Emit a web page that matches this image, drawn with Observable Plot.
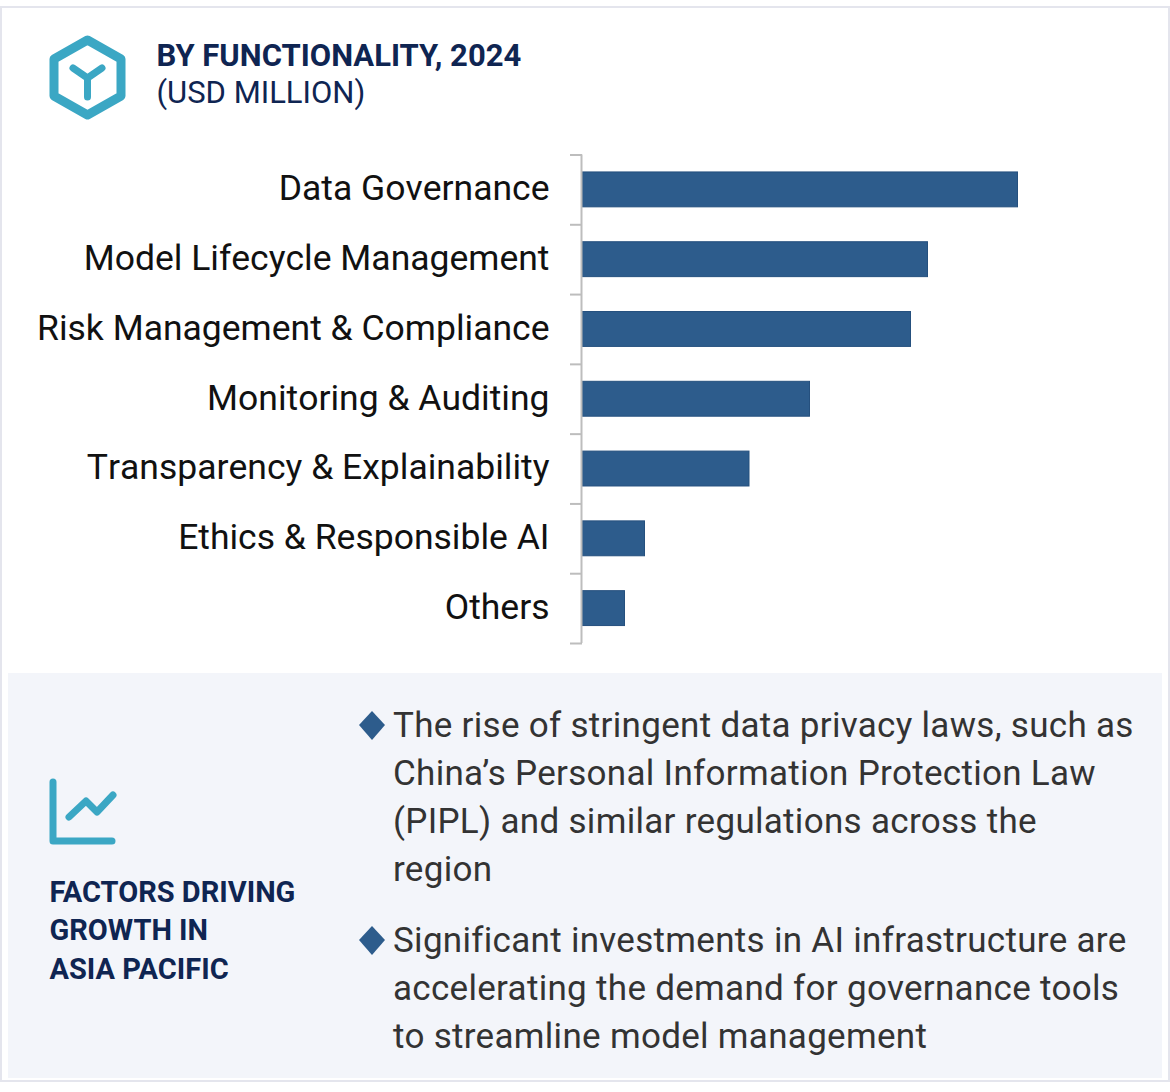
<!DOCTYPE html>
<html><head><meta charset="utf-8">
<script src="https://cdn.jsdelivr.net/npm/d3@7"></script>
<script src="https://cdn.jsdelivr.net/npm/@observablehq/plot@0.6"></script>
<style>
html,body{margin:0;padding:0;background:#fff;font-family:Roboto,sans-serif}
#page{position:relative;width:1170px;height:1092px;overflow:hidden}
#frame{position:absolute;left:0;top:6px;width:1170px;height:1076px;box-sizing:border-box;border:2px solid #e4e5ed;border-right-width:2px}
#panel{position:absolute;left:8px;top:673px;width:1154px;height:405px;background:#f3f5fa}
.t{position:absolute;white-space:nowrap;line-height:1}
.title{left:156.5px;color:#0f2552;font-size:31px}
.head{left:49.5px;color:#0f2552;font-size:29px;font-weight:700}
.body{left:393px;color:#333;font-size:35px;letter-spacing:.3px}
#icons{position:absolute;left:0;top:0}
#chart{position:absolute;left:0;top:130px}
</style></head><body>
<div id="page">
<div id="frame"></div><div id="panel"></div>
<svg id="icons" width="1170" height="1092" fill="none" stroke="#3ba7c4" stroke-linecap="round" stroke-linejoin="round">
<path d="M87.5 40 L121 59 V96 L87.5 115 L54 96 V59 Z" stroke-width="9"/>
<path d="M73 68 L87.5 78 L102 68 M87.5 78 V97" stroke-width="7"/>
<path d="M53 782 V841 H112" stroke-width="7"/>
<path d="M69 817 L86 801 L97 812 L113 795" stroke-width="7"/>
<polygon points="372,711 385,725 372,740 359,725" fill="#2d5c8c" stroke="none"/>
<polygon points="372,926 385,940 372,955 359,940" fill="#2d5c8c" stroke="none"/>
</svg>
<div id="chart"></div>
<div id="texts"></div>
</div>
<script>
const categories = ["Data Governance","Model Lifecycle Management","Risk Management & Compliance","Monitoring & Auditing","Transparency & Explainability","Ethics & Responsible AI","Others"];
const values = [435.5,345.5,328.5,227.5,167,62.5,42.5];
const rows = categories.map((name,i)=>({name,value:values[i]}));
const titleLines = [["BY FUNCTIONALITY, 2024",40,700],["(USD MILLION)",77,400]];
const headLines = [["FACTORS DRIVING",878],["GROWTH IN",916],["ASIA PACIFIC",955]];
const bodyLines = [["The rise of stringent data privacy laws, such as",708],["China’s Personal Information Protection Law",756],["(PIPL) and similar regulations across the",804],["region",852],["Significant investments in AI infrastructure are",923],["accelerating the demand for governance tools",971],["to streamline model management",1019]];

const texts = document.getElementById("texts");
function add(cls,txt,top,weight){const d=document.createElement("div");d.className="t "+cls;d.textContent=txt;d.style.top=top+"px";if(weight)d.style.fontWeight=weight;texts.appendChild(d);}
titleLines.forEach(l=>add("title",l[0],l[1],l[2]));
headLines.forEach(l=>add("head",l[0],l[1]));
bodyLines.forEach(l=>add("body",l[0],l[1]));

const step = (643-154.5)/categories.length;
const chart = Plot.plot({
  width:1170,height:530,
  marginLeft:582,marginRight:0,marginTop:24.5,marginBottom:17,
  style:{fontFamily:"Roboto, sans-serif",background:"transparent",overflow:"visible",fontKerning:"none"},
  x:{domain:[0,588],axis:null},
  y:{domain:categories,paddingInner:0.5,paddingOuter:0.25,align:0.5,round:false,label:null},
  marks:[
    Plot.axisY({tickSize:0,tickPadding:33,fontSize:35.5,dy:-1,color:"#111",label:null,tickFormat:d=>d}),
    Plot.ruleY(categories,{y:d=>d,x1:-12,x2:0,dy:-step/2,stroke:"#bdbdbd",strokeWidth:2}),
    Plot.ruleY(categories.slice(-1),{y:d=>d,x1:-12,x2:0,dy:step/2,stroke:"#bdbdbd",strokeWidth:2}),
    Plot.barX(rows,{y:"name",x:"value",fill:"#2d5c8c",stroke:"#25507e",strokeWidth:1}),
    Plot.ruleX([-1],{stroke:"#bdbdbd",strokeWidth:2})
  ]
});
document.getElementById("chart").appendChild(chart);
</script>
</body></html>
